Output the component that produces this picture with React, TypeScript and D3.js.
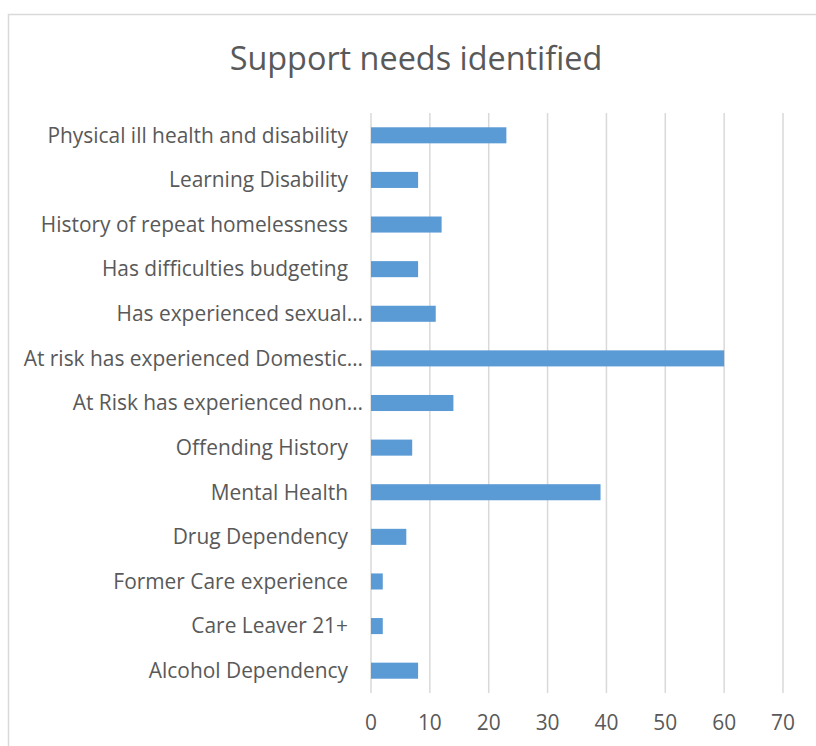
import React from "react";
import * as d3 from "d3";

const categories = [
  "Physical ill health and disability",
  "Learning Disability",
  "History of repeat homelessness",
  "Has difficulties budgeting",
  "Has experienced sexual…",
  "At risk has experienced Domestic…",
  "At Risk has experienced non…",
  "Offending History",
  "Mental Health",
  "Drug Dependency",
  "Former Care experience",
  "Care Leaver 21+",
  "Alcohol Dependency",
];
const values = [23, 8, 12, 8, 11, 60, 14, 7, 39, 6, 2, 2, 8];
const ticks = [0, 10, 20, 30, 40, 50, 60, 70];
const title = "Support needs identified";

const W = 816;
const H = 746;
const FONT = "'Open Sans', sans-serif";
const TEXT = "#595959";

export default function App() {
  const x = d3.scaleLinear().domain([0, 70]).range([371, 783]);
  const y = d3.scaleBand<string>().domain(categories).range([113, 693]).paddingInner(0.64).paddingOuter(0.32);
  return (
    <svg width={W} height={H} style={{ position: "absolute", left: 0, top: 0, background: "#fff" }}>
      <rect x={0} y={0} width={W} height={H} fill="#fff" />
      <rect x={8.5} y={14.5} width={W + 20} height={H + 20} fill="#fff" stroke="#D9D9D9" strokeWidth={1.5} />
      <text x={416} y={70} textAnchor="middle" fontFamily={FONT} fontSize={32.4} fill={TEXT}>{title}</text>
      {ticks.map((t) => (
        <line key={"g" + t} x1={x(t)} x2={x(t)} y1={113} y2={693} stroke="#D9D9D9" strokeWidth={1.5} />
      ))}
      {categories.map((c, i) => (
        <rect key={"b" + c} x={x(0)} y={y(c)} width={x(values[i]) - x(0)} height={y.bandwidth()} fill="#5B9BD5" />
      ))}
      {categories.map((c) => (
        <text key={"l" + c} x={c.endsWith("…") ? 363 : 348} y={(y(c) as number) + y.bandwidth() / 2} dy="0.35em" textAnchor="end" fontFamily={FONT} fontSize={20.9} fill={TEXT}>{c}</text>
      ))}
      {ticks.map((t) => (
        <text key={"t" + t} x={x(t)} y={723} dy="0.35em" textAnchor="middle" fontFamily={FONT} fontSize={20.9} fill={TEXT}>{t}</text>
      ))}
    </svg>
  );
}
